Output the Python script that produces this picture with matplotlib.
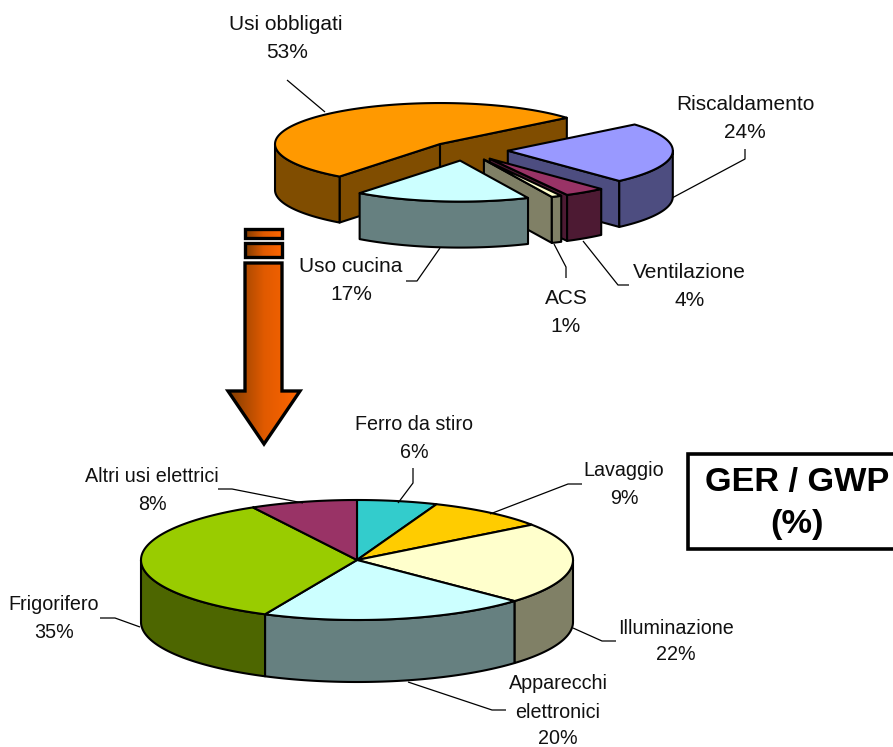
import numpy as np
import matplotlib
matplotlib.use('Agg')
import matplotlib.pyplot as plt
from matplotlib.patches import Polygon, Rectangle
from matplotlib.colors import LinearSegmentedColormap

plt.rcParams['font.family'] = ['Liberation Sans', 'DejaVu Sans']

top_labels = ['Usi obbligati', 'Riscaldamento', 'Ventilazione', 'ACS', 'Uso cucina']
top_values = [53, 24, 4, 1, 17]
top_colors = ['#FF9900', '#9999FF', '#993366', '#FFFFCC', '#CCFFFF']
top_sides = ['#804D00', '#4D4D80', '#4D1A33', '#808066', '#668080']
top_explode = [0.21, 0.26, 0.26, 0.26, 0.26]

bottom_labels = ['Ferro da stiro', 'Lavaggio', 'Illuminazione', 'Apparecchi\nelettronici',
                 'Frigorifero', 'Altri usi elettrici']
bottom_values = [6, 9, 22, 20, 35, 8]
bottom_colors = ['#33CCCC', '#FFCC00', '#FFFFCC', '#CCFFFF', '#99CC00', '#993366']
bottom_sides = ['#1A6666', '#806600', '#808066', '#668080', '#4D6600', '#4D1A33']
bottom_explode = [0, 0, 0, 0, 0, 0]

LINE = '#000000'
TEXT = '#111111'


def point(c, rx, ry, t):
    # t in degrees, clockwise from the top of the ellipse
    a = np.radians(t)
    return c[0] + rx * np.sin(a), c[1] - ry * np.cos(a)


def add_wall(ax, xs, ys, depth, color, lw):
    px = list(xs) + list(xs)[::-1]
    py = list(ys) + [y + depth for y in ys][::-1]
    ax.add_patch(Polygon(np.column_stack([px, py]), closed=True, fc=color, ec=LINE, lw=lw, joinstyle='round'))


def draw_slice(ax, c, rx, ry, depth, t0, t1, color, side, explode=0.0, lw=1.5):
    mid = (t0 + t1) / 2.0
    cx, cy = point((0, 0), rx * explode, ry * explode, mid)
    apex = (c[0] + cx, c[1] + cy)
    # radial walls, only on exploded slices and only if they face the viewer
    if explode > 0:
        if 180 < t0 % 360 < 360:
            x, y = point(apex, rx, ry, t0)
            add_wall(ax, [apex[0], x], [apex[1], y], depth, side, lw)
        if 0 < t1 % 360 < 180:
            x, y = point(apex, rx, ry, t1)
            add_wall(ax, [apex[0], x], [apex[1], y], depth, side, lw)
    # outer wall, front half of the ellipse only
    for k in range(-1, 2):
        a = max(t0, 90 + 360 * k)
        b = min(t1, 270 + 360 * k)
        if b > a:
            ts = np.linspace(a, b, 80)
            x, y = point(apex, rx, ry, ts)
            add_wall(ax, x, y, depth, side, lw)
    ts = np.linspace(t0, t1, 120)
    x, y = point(apex, rx, ry, ts)
    pts = np.column_stack([np.r_[apex[0], x], np.r_[apex[1], y]])
    ax.add_patch(Polygon(pts, closed=True, fc=color, ec=LINE, lw=lw, joinstyle='round'))


def draw_pie(ax, values, colors, sides, explode, c, rx, ry, depth, start):
    total = float(sum(values))
    edges = start + np.r_[0, np.cumsum(values)] * 360.0 / total
    for i in range(len(values)):
        draw_slice(ax, c, rx, ry, depth, edges[i], edges[i + 1], colors[i], sides[i], explode[i])


def grad_poly(ax, pts, x0, x1, cmap):
    y0 = min(p[1] for p in pts)
    y1 = max(p[1] for p in pts)
    im = ax.imshow(np.linspace(0, 1, 128).reshape(1, -1), cmap=cmap, aspect='auto',
                   extent=(x0, x1, y1, y0), zorder=2)
    poly = Polygon(pts, closed=True, fc='none', ec=LINE, lw=2.4, joinstyle='miter', zorder=3)
    ax.add_patch(poly)
    im.set_clip_path(poly)


fig = plt.figure(figsize=(8.93, 7.47), dpi=100)
ax = fig.add_axes([0, 0, 1, 1])

draw_pie(ax, top_values, top_colors, top_sides, top_explode, (465, 150), 165, 41, 46, -142.5)
draw_pie(ax, bottom_values, bottom_colors, bottom_sides, bottom_explode, (357, 560), 216, 60, 62, 0.0)

# arrow
cmap = LinearSegmentedColormap.from_list('arrow', ['#803C00', '#E05A00', '#FF6600'])
grad_poly(ax, [(245, 229), (282, 229), (282, 238), (245, 238)], 245, 282, cmap)
grad_poly(ax, [(245, 243), (282, 243), (282, 257), (245, 257)], 245, 282, cmap)
grad_poly(ax, [(245, 263), (282, 263), (282, 391), (300, 391), (264, 444), (228, 391), (245, 391)],
          228, 300, cmap)

# leader lines
leaders = [
    [(287, 80), (325, 112)],
    [(745, 149), (745, 159), (672, 198)],
    [(629, 285), (618, 285), (583, 241)],
    [(566, 278), (566, 267), (554, 244)],
    [(406, 281), (417, 281), (440, 248)],
    [(413, 468), (413, 483), (398, 503)],
    [(582, 484), (568, 484), (490, 514)],
    [(616, 641), (602, 641), (573, 628)],
    [(506, 710), (492, 710), (408, 682)],
    [(100, 618), (115, 618), (140, 627)],
    [(218, 489), (232, 489), (303, 503)],
]
for seg in leaders:
    s = np.array(seg)
    ax.plot(s[:, 0], s[:, 1], color=LINE, lw=0.9, zorder=1, solid_capstyle='butt')

# labels: name centre and percent centre, the lower pie has slightly smaller text
top_pos = [(286, 25, 287, 53), (745, 104, 745, 132), (689, 272, 690, 300),
           (566, 298, 566, 327), (351, 267, 351, 295)]
bottom_pos = [(414, 425, 414, 452), (624, 471, 624, 498), (676, 628, 676, 655),
              (558, 698, 558, 738), (54, 605, 54, 632), (152, 477, 152, 504)]
for labs, vals, pos, size in [(top_labels, top_values, top_pos, 15),
                              (bottom_labels, bottom_values, bottom_pos, 14.2)]:
    for lab, v, p in zip(labs, vals, pos):
        ax.text(p[0], p[1], lab, ha='center', va='center', fontsize=size, color=TEXT, linespacing=1.62)
        ax.text(p[2], p[3], '%d%%' % v, ha='center', va='center', fontsize=size, color=TEXT)

# box
ax.add_patch(Rectangle((688, 454), 230, 95, fc='white', ec=LINE, lw=2.6, zorder=4))
ax.text(797, 482, 'GER / GWP', ha='center', va='center', fontsize=24.7, fontweight='bold', color='black', zorder=5)
ax.text(797, 525, '(%)', ha='center', va='center', fontsize=24.7, fontweight='bold', color='black', zorder=5)

ax.set_xlim(0, 893)
ax.set_ylim(747, 0)
ax.axis('off')
fig.savefig('out.png', dpi=100)
